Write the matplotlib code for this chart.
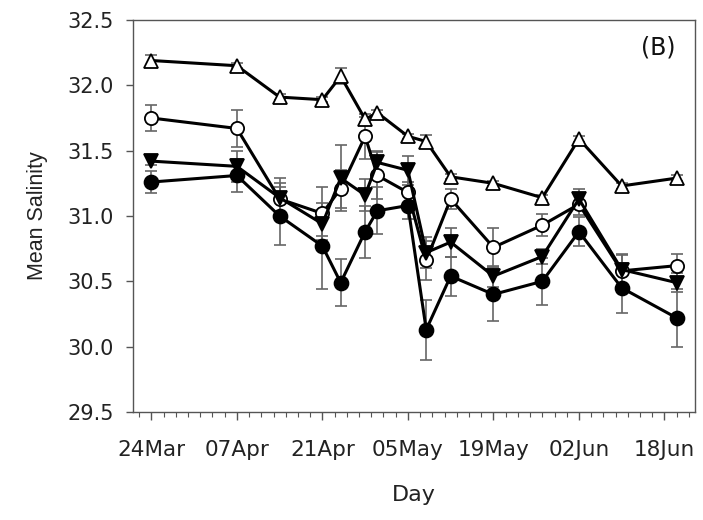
import matplotlib
matplotlib.use("Agg")
import matplotlib.pyplot as plt
from matplotlib.ticker import MultipleLocator, FixedLocator

# Days since 24 Mar
days = [0, 14, 21, 28, 31, 35, 37, 42, 45, 49, 56, 64, 70, 77, 86]

tri_up = [32.19, 32.15, 31.91, 31.89, 32.07, 31.74, 31.79, 31.61, 31.57, 31.30, 31.25, 31.14, 31.59, 31.23, 31.29]
tri_up_err = [0.04, 0.02, 0.02, 0.02, 0.06, 0.02, 0.02, 0.02, 0.05, 0.02, 0.02, 0.02, 0.02, 0.02, 0.02]

circ_open = [31.75, 31.67, 31.13, 31.02, 31.21, 31.61, 31.31, 31.18, 30.66, 31.13, 30.76, 30.93, 31.09, 30.58, 30.62]
circ_open_err = [0.10, 0.14, 0.12, 0.20, 0.145, 0.17, 0.18, 0.08, 0.15, 0.08, 0.15, 0.085, 0.08, 0.12, 0.09]

tri_down = [31.42, 31.38, 31.14, 30.94, 31.29, 31.16, 31.41, 31.35, 30.72, 30.80, 30.54, 30.69, 31.13, 30.59, 30.49]
tri_down_err = [0.03, 0.12, 0.15, 0.09, 0.25, 0.12, 0.09, 0.11, 0.12, 0.11, 0.08, 0.055, 0.08, 0.12, 0.07]

circ_fill = [31.26, 31.31, 31.00, 30.77, 30.49, 30.88, 31.04, 31.08, 30.13, 30.54, 30.40, 30.50, 30.88, 30.45, 30.22]
circ_fill_err = [0.087, 0.13, 0.22, 0.33, 0.18, 0.20, 0.18, 0.10, 0.23, 0.15, 0.20, 0.18, 0.11, 0.19, 0.22]

tick_days = [0, 14, 28, 42, 56, 70, 84]
tick_labels = ["24Mar", "07Apr", "21Apr", "05May", "19May", "02Jun", "18Jun"]

plt.rcParams['font.family'] = ['DejaVu Sans']

fig = plt.figure(figsize=(7.03, 5.20), dpi=100)
ax = fig.add_axes([133/703, 1-412/520, (695-133)/703, (412-20)/520])

ecol = '#666666'
series = [
    (tri_up, tri_up_err, '^', 'white', 9.5),
    (circ_open, circ_open_err, 'o', 'white', 9.5),
    (tri_down, tri_down_err, 'v', 'black', 9.5),
    (circ_fill, circ_fill_err, 'o', 'black', 10),
]
for vals, err, mk, fc, ms in series:
    ax.errorbar(days, vals, yerr=err, fmt='none', ecolor=ecol, elinewidth=1.2,
                capsize=4, capthick=1.2, zorder=2)
for vals, err, mk, fc, ms in series:
    ax.plot(days, vals, color='black', lw=2.2, marker=mk, markersize=ms,
            markerfacecolor=fc, markeredgecolor='black', markeredgewidth=1.3, zorder=3)

ax.set_xlim(-3, 89)
ax.set_ylim(29.5, 32.5)
ax.yaxis.set_major_locator(MultipleLocator(0.5))
ax.xaxis.set_major_locator(FixedLocator(tick_days))
ax.set_xticklabels(tick_labels)
ax.xaxis.set_minor_locator(MultipleLocator(2))

for sp in ax.spines.values():
    sp.set_color('#555555')
    sp.set_linewidth(1.0)

ax.tick_params(axis='y', which='major', direction='out', length=5, width=1.0,
               color='#555555', labelsize=15, pad=9, labelcolor='#222222')
ax.tick_params(axis='x', which='major', direction='out', length=6, width=1.0,
               color='#555555', labelsize=15.5, pad=14, labelcolor='#222222')
ax.tick_params(axis='x', which='minor', direction='out', length=3.5, width=0.8,
               color='#555555')

ax.set_ylabel('Mean Salinity', fontsize=15.5, color='#222222', labelpad=14,
              family=['Liberation Sans', 'DejaVu Sans'])
ax.set_xlabel('Day', fontsize=16, color='#222222', labelpad=18)

ax.text(0.935, 0.93, '(B)', transform=ax.transAxes, fontsize=17,
        ha='center', va='center', color='#111111')

fig.savefig('out.png', dpi=100)
